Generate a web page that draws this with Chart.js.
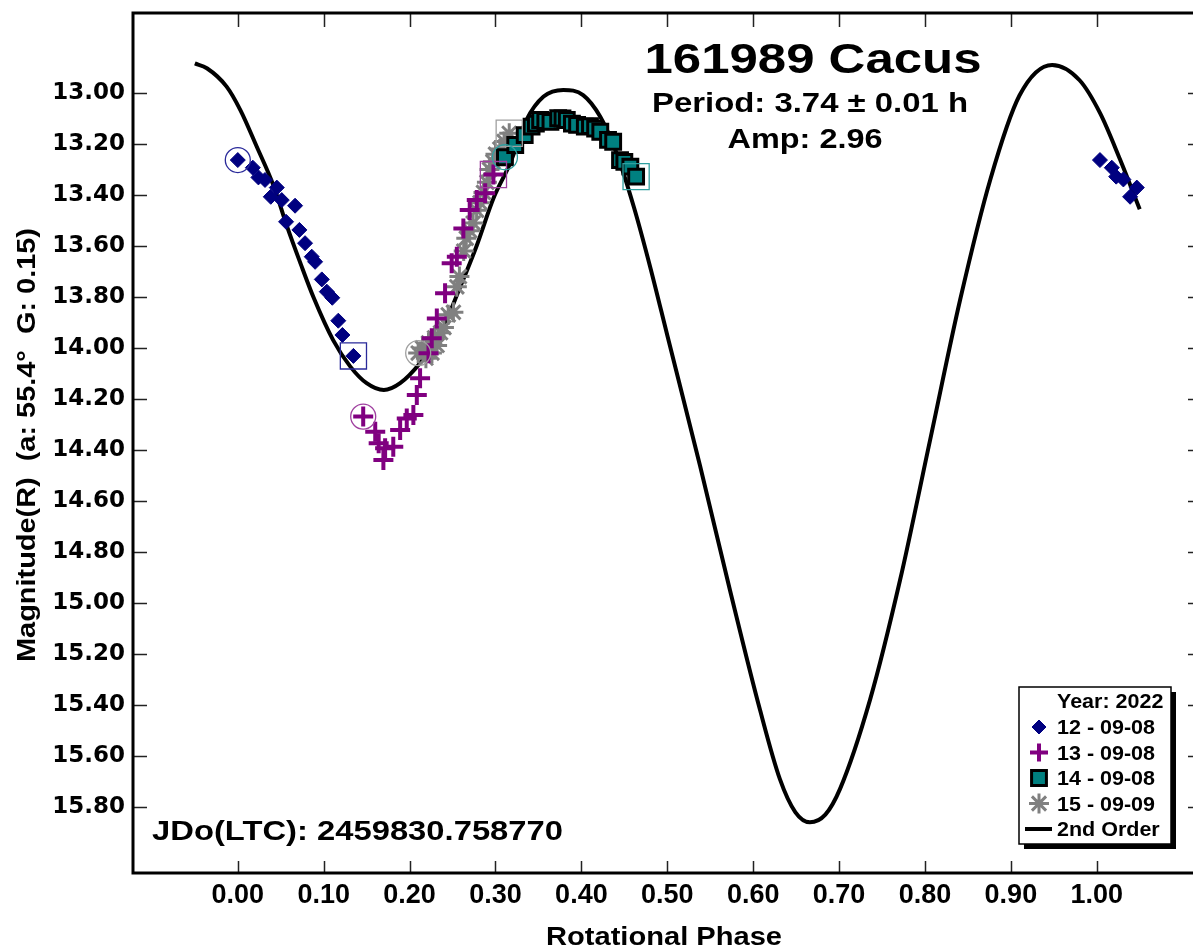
<!DOCTYPE html>
<html>
<head>
<meta charset="utf-8">
<script src="https://cdn.jsdelivr.net/npm/chart.js@4.4.1/dist/chart.umd.min.js"></script>
<style>
    html, body { margin: 0; padding: 0; background: #fff; overflow: hidden; }
    canvas { display: block; }
</style>
</head>
<body>
<canvas id="lc" width="1215" height="947"></canvas>
<script>
// --- DATA ---
const xTicks = [0.0, 0.1, 0.2, 0.3, 0.4, 0.5, 0.6, 0.7, 0.8, 0.9, 1.0];
const yTicks = [13.0, 13.2, 13.4, 13.6, 13.8, 14.0, 14.2, 14.4, 14.6, 14.8, 15.0, 15.2, 15.4, 15.6, 15.8];

// 12 - 09-08 (biru)
const phase12 = [0.000, 0.0175, 0.024, 0.0317, 0.0384, 0.0454, 0.0512, 0.0562, 0.0667, 0.0717, 0.0783, 0.0861, 0.090, 0.0978, 0.1036, 0.110, 0.117, 0.1218, 0.1346];
const mag12   = [13.263, 13.293, 13.331, 13.341, 13.407, 13.371, 13.420, 13.505, 13.442, 13.537, 13.589, 13.642, 13.662, 13.731, 13.779, 13.803, 13.893, 13.949, 14.031];
// titik yang sama, diulang di fase > 1
const phase12b = [1.0037, 1.0175, 1.0226, 1.031, 1.0388, 1.0466];
const mag12b   = [13.263, 13.293, 13.328, 13.339, 13.407, 13.371];

// 13 - 09-08 (ungu)
const phase13 = [0.146, 0.160, 0.164, 0.1695, 0.1715, 0.181, 0.189, 0.1967, 0.2044, 0.2084, 0.2122, 0.222, 0.2258, 0.2317, 0.2413, 0.249, 0.255, 0.2626, 0.270, 0.2782, 0.288, 0.2976];
const mag13   = [14.269, 14.328, 14.374, 14.439, 14.393, 14.387, 14.322, 14.276, 14.263, 14.184, 14.119, 14.021, 13.962, 13.884, 13.785, 13.668, 13.642, 13.531, 13.459, 13.420, 13.393, 13.320];

// 14 - 09-08 (teal)
const phase14 = [0.311, 0.323, 0.334, 0.342, 0.347, 0.352, 0.358, 0.364, 0.373, 0.378, 0.383, 0.389, 0.395, 0.404, 0.410, 0.416, 0.422, 0.431, 0.437, 0.445, 0.450, 0.457, 0.4637];
const mag14   = [13.252, 13.204, 13.165, 13.132, 13.120, 13.106, 13.110, 13.113, 13.099, 13.100, 13.106, 13.120, 13.125, 13.132, 13.130, 13.140, 13.152, 13.184, 13.191, 13.263, 13.270, 13.289, 13.328];

// 15 - 09-09 (abu-abu)
const phase15 = [0.210, 0.215, 0.219, 0.222, 0.226, 0.229, 0.232, 0.236, 0.240, 0.245, 0.251, 0.255, 0.258, 0.263, 0.266, 0.270, 0.274, 0.278, 0.282, 0.286, 0.290, 0.293, 0.297, 0.300, 0.305, 0.310, 0.316];
const mag15   = [14.020, 14.000, 14.040, 13.980, 14.020, 13.960, 13.990, 13.940, 13.920, 13.870, 13.860, 13.760, 13.720, 13.620, 13.570, 13.540, 13.510, 13.460, 13.430, 13.390, 13.350, 13.300, 13.270, 13.240, 13.220, 13.190, 13.158];

// kurva Fourier orde 2
const fitPhase = [-0.05, -0.036, -0.013, 0.003, 0.022, 0.042, 0.057, 0.073, 0.088, 0.111, 0.131, 0.150, 0.170, 0.189, 0.212, 0.236, 0.259, 0.278, 0.298, 0.317, 0.336, 0.356, 0.379, 0.402, 0.422, 0.441, 0.461, 0.480, 0.500, 0.538, 0.573, 0.608, 0.631, 0.649, 0.666, 0.684, 0.701, 0.736, 0.771, 0.806, 0.841, 0.876, 0.910, 0.948, 0.980, 1.004, 1.027, 1.050];
const fitMag   = [12.884, 12.903, 12.975, 13.067, 13.210, 13.367, 13.520, 13.668, 13.800, 13.969, 14.073, 14.138, 14.165, 14.138, 14.060, 13.942, 13.760, 13.600, 13.410, 13.276, 13.106, 13.014, 12.988, 13.008, 13.093, 13.236, 13.446, 13.681, 13.950, 14.460, 14.950, 15.420, 15.690, 15.820, 15.860, 15.830, 15.730, 15.380, 14.910, 14.360, 13.810, 13.340, 13.010, 12.890, 12.950, 13.080, 13.260, 13.456];

const NAVY = '#000080', PURPLE = '#800080', TEAL = '#008080', GRAY = '#808080';
const FONT = '"Liberation Sans", Arial, sans-serif';

const toXY = (xs, ys) => xs.map((x, i) => ({ x, y: ys[i] }));
const firstOf = (xs, ys) => [{ x: xs[0], y: ys[0] }];
const lastOf = (xs, ys) => [{ x: xs[xs.length - 1], y: ys[ys.length - 1] }];

// --- TEKS ---
function stretchText(ctx, text, x, y, size, width, align) {
    ctx.save();
    ctx.font = `bold ${size}px ${FONT}`;
    const sx = width / ctx.measureText(text).width;
    ctx.translate(x, y);
    ctx.scale(sx, 1);
    ctx.textAlign = align;
    ctx.textBaseline = 'alphabetic';
    ctx.fillStyle = '#000';
    ctx.fillText(text, 0, 0);
    ctx.restore();
}

// bingkai + tick ke dalam
const framePlugin = {
    id: 'frame',
    afterDraw(chart) {
        const { ctx, chartArea: a, scales } = chart;
        ctx.save();
        ctx.strokeStyle = '#222';
        ctx.lineWidth = 1.5;
        ctx.beginPath();
        xTicks.forEach(v => {
            const px = Math.round(scales.x.getPixelForValue(v)) + 0.5;
            ctx.moveTo(px, a.bottom); ctx.lineTo(px, a.bottom - 12);
            ctx.moveTo(px, a.top); ctx.lineTo(px, a.top + 14);
        });
        yTicks.forEach(v => {
            const py = Math.round(scales.y.getPixelForValue(v)) + 0.5;
            ctx.moveTo(a.left, py); ctx.lineTo(a.left + 14, py);
            ctx.moveTo(a.right, py); ctx.lineTo(a.right - 14, py);
        });
        ctx.stroke();
        ctx.strokeStyle = '#000';
        ctx.lineWidth = 3;
        ctx.strokeRect(a.left, a.top, a.right - a.left, a.bottom - a.top);
        ctx.restore();
    }
};

const textPlugin = {
    id: 'labels',
    afterDraw(chart) {
        const { ctx } = chart;
        stretchText(ctx, '161989 Cacus', 813, 73, 42, 337, 'center');
        stretchText(ctx, 'Period: 3.74 \u00b1 0.01 h', 810, 112, 28, 316, 'center');
        stretchText(ctx, 'Amp: 2.96', 805, 148, 28, 155, 'center');
        stretchText(ctx, 'JDo(LTC): 2459830.758770', 152, 840, 28, 411, 'left');
        stretchText(ctx, 'Rotational Phase', 664, 945, 25, 236, 'center');
        ctx.save();
        ctx.translate(35, 445);
        ctx.rotate(-Math.PI / 2);
        stretchText(ctx, 'Magnitude(R)  (a: 55.4\u00b0  G: 0.15)', 0, 0, 25, 434, 'center');
        ctx.restore();
    }
};

// legenda kustom di pojok kanan bawah
const legendPlugin = {
    id: 'boxLegend',
    afterDraw(chart) {
        const { ctx } = chart;
        const bx = 1019, by = 687, bw = 152, bh = 157;
        ctx.save();
        ctx.fillStyle = '#000';
        ctx.fillRect(bx + 5, by + 5, bw, bh);
        ctx.fillStyle = '#fff';
        ctx.fillRect(bx, by, bw, bh);
        ctx.strokeStyle = '#000';
        ctx.lineWidth = 1.5;
        ctx.strokeRect(bx, by, bw, bh);

        const rows = [
            { label: '12 - 09-08', ds: 1 },
            { label: '13 - 09-08', ds: 3 },
            { label: '14 - 09-08', ds: 4 },
            { label: '15 - 09-09', ds: 5 },
            { label: '2nd Order', ds: 0 },
        ];
        ctx.font = `bold 20px ${FONT}`;
        const sx = 98 / ctx.measureText('12 - 09-08').width;
        const tw = (t) => { ctx.font = `bold 20px ${FONT}`; return ctx.measureText(t).width * sx; };
        stretchText(ctx, 'Year: 2022', 1057, 708, 20, tw('Year: 2022'), 'left');
        const rowY = [727, 752.5, 778, 803.5, 829];
        rows.forEach((r, i) => {
            const d = chart.data.datasets[r.ds];
            const cy = rowY[i];
            if (r.ds === 0) {
                ctx.strokeStyle = '#000';
                ctx.lineWidth = 4;
                ctx.beginPath();
                ctx.moveTo(1025, cy); ctx.lineTo(1052, cy);
                ctx.stroke();
            } else {
                ctx.fillStyle = d.backgroundColor;
                ctx.strokeStyle = d.borderColor;
                ctx.lineWidth = d.borderWidth;
                Chart.helpers.drawPoint(ctx, {
                    pointStyle: d.pointStyle, radius: d.legendRadius, rotation: 0, borderWidth: d.borderWidth
                }, 1039, cy);
            }
            stretchText(ctx, r.label, 1057, cy + 7, 20, tw(r.label), 'left');
        });
        ctx.restore();
    }
};

const ring = (data, color) => ({
    type: 'scatter', data, pointStyle: 'circle', pointRadius: 12.5,
    backgroundColor: 'rgba(0,0,0,0)', borderColor: color, borderWidth: 1.3, order: 0
});
const box = (data, color) => ({
    type: 'scatter', data, pointStyle: 'rect', pointRadius: 18.5,
    backgroundColor: 'rgba(0,0,0,0)', borderColor: color, borderWidth: 1.3, order: 0
});

new Chart(document.getElementById('lc'), {
    type: 'scatter',
    data: {
        datasets: [
            {
                type: 'line', label: '2nd Order', data: toXY(fitPhase, fitMag),
                borderColor: '#000', borderWidth: 4, pointRadius: 0,
                cubicInterpolationMode: 'monotone', order: 9
            },
            {
                label: '12 - 09-08', data: toXY(phase12, mag12), pointStyle: 'rectRot', pointRadius: 7.5,
                legendRadius: 7, backgroundColor: NAVY, borderColor: NAVY, borderWidth: 1, order: 2
            },
            {
                label: '12b', data: toXY(phase12b, mag12b), pointStyle: 'rectRot', pointRadius: 7.5,
                backgroundColor: NAVY, borderColor: NAVY, borderWidth: 1, order: 2
            },
            {
                label: '13 - 09-08', data: toXY(phase13, mag13), pointStyle: 'cross', pointRadius: 10,
                legendRadius: 9, backgroundColor: PURPLE, borderColor: PURPLE, borderWidth: 4, order: 3
            },
            {
                label: '14 - 09-08', data: toXY(phase14, mag14), pointStyle: 'rect', pointRadius: 10.5,
                legendRadius: 10.5, backgroundColor: TEAL, borderColor: '#000', borderWidth: 3, order: 1
            },
            {
                label: '15 - 09-09', data: toXY(phase15, mag15), pointStyle: 'star', pointRadius: 10,
                legendRadius: 10, backgroundColor: GRAY, borderColor: GRAY, borderWidth: 3, order: 4
            },
            ring(firstOf(phase12, mag12), '#2a2a9a'),
            ring(firstOf(phase13, mag13), '#a040a0'),
            ring(firstOf(phase14, mag14), '#30a0a0'),
            ring(firstOf(phase15, mag15), '#a0a0a0'),
            box(lastOf(phase12, mag12), '#2a2a9a'),
            box(lastOf(phase13, mag13), '#a040a0'),
            box(lastOf(phase14, mag14), '#30a0a0'),
            box(lastOf(phase15, mag15), '#a0a0a0'),
        ]
    },
    options: {
        responsive: false,
        animation: false,
        devicePixelRatio: 1,
        layout: { autoPadding: false, padding: { top: 13, right: 13, left: 0, bottom: 0 } },
        plugins: { legend: { display: false }, tooltip: { enabled: false } },
        scales: {
            x: {
                type: 'linear', min: -0.122, max: 1.1225,
                afterBuildTicks: (axis) => { axis.ticks = xTicks.map(v => ({ value: v })); },
                afterFit: (s) => { s.height = 74; s.paddingLeft = 0; s.paddingRight = 0; },
                grid: { display: false, drawTicks: false },
                border: { display: false },
                ticks: {
                    padding: 6, color: '#000', maxRotation: 0, autoSkip: false,
                    font: { family: FONT, size: 27, weight: 'bold' },
                    callback: (v) => Number(v).toFixed(2)
                }
            },
            y: {
                type: 'linear', reverse: true, min: 12.6863, max: 16.0588,
                afterBuildTicks: (axis) => { axis.ticks = yTicks.map(v => ({ value: v })); },
                afterFit: (s) => { s.width = 133; s.paddingTop = 0; s.paddingBottom = 0; },
                grid: { display: false, drawTicks: false },
                border: { display: false },
                ticks: {
                    padding: 8, color: '#000', autoSkip: false,
                    font: { family: '"DejaVu Sans", sans-serif', size: 23, weight: 'bold' },
                    callback: (v) => Number(v).toFixed(2)
                }
            }
        }
    },
    plugins: [framePlugin, textPlugin, legendPlugin]
});
</script>
</body>
</html>
